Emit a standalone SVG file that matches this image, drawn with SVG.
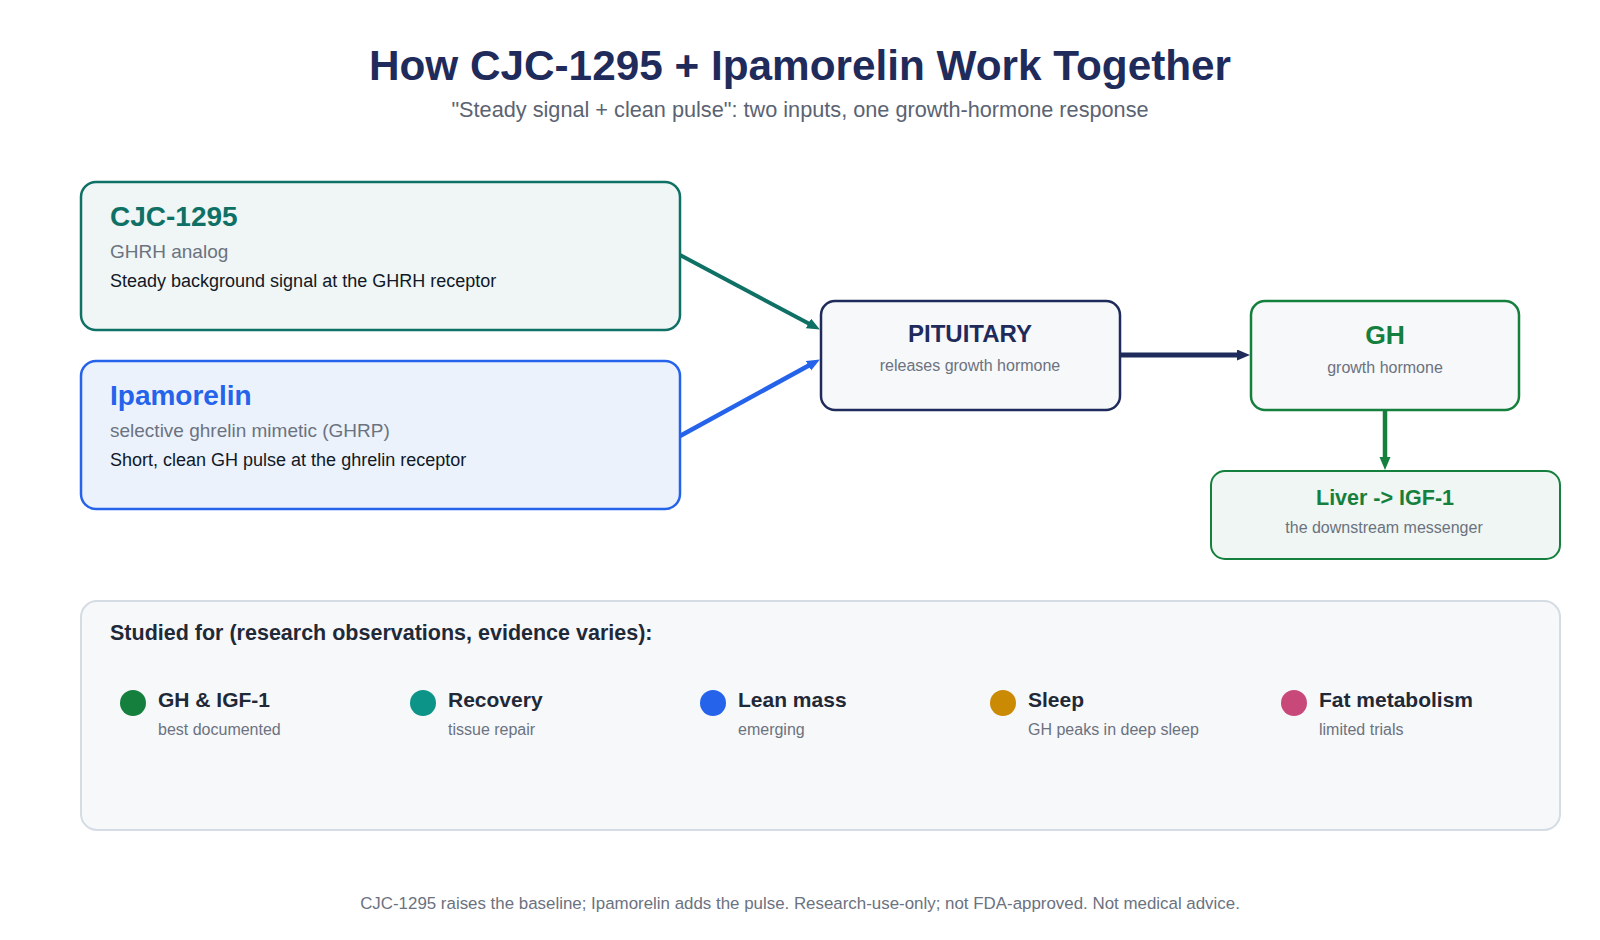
<svg xmlns="http://www.w3.org/2000/svg" width="1600" height="940" viewBox="0 0 1600 940">
<defs>
<style>
text{font-family:"Liberation Sans",Arial,sans-serif}
.title{font-size:42.3px;font-weight:bold;fill:#1f2b5b}
.subtitle{font-size:21.7px;fill:#5b6372}
.h{font-size:28px;font-weight:bold}
.g{font-size:19px;fill:#6b7280}
.d{font-size:18px;fill:#111827}
.nt{font-weight:bold;text-anchor:middle}
.ns{font-size:16px;fill:#6b7280;text-anchor:middle}
.lbl{font-size:21px;font-weight:bold;fill:#1f2937}
.sub{font-size:16px;fill:#6b7280}
.foot{font-size:16.9px;fill:#6b7280;text-anchor:middle}
.edge{fill:none;stroke-linecap:butt}
</style>
<marker id="aTeal" markerUnits="userSpaceOnUse" markerWidth="15" markerHeight="12" refX="4" refY="5.5" orient="auto"><path d="M0,0 L13,5.5 L0,11 z" fill="#0f7065"/></marker>
<marker id="aBlue" markerUnits="userSpaceOnUse" markerWidth="15" markerHeight="12" refX="4" refY="5.5" orient="auto"><path d="M0,0 L13,5.5 L0,11 z" fill="#2563eb"/></marker>
<marker id="aNavy" markerUnits="userSpaceOnUse" markerWidth="15" markerHeight="12" refX="4" refY="5.5" orient="auto"><path d="M0,0 L13,5.5 L0,11 z" fill="#1f2b5b"/></marker>
<marker id="aGreen" markerUnits="userSpaceOnUse" markerWidth="15" markerHeight="12" refX="4" refY="5.5" orient="auto"><path d="M0,0 L13,5.5 L0,11 z" fill="#15803d"/></marker>
</defs>
<rect x="0" y="0" width="1600" height="940" fill="#ffffff"/>
<g id="title">
<text class="title" x="800" y="80" text-anchor="middle">How CJC-1295 + Ipamorelin Work Together</text>
<text class="subtitle" x="800" y="117" text-anchor="middle">"Steady signal + clean pulse": two inputs, one growth-hormone response</text>
</g>
<g id="connectors">
<path class="edge" d="M680,255 L812,325.3" stroke="#0f7065" stroke-width="4" marker-end="url(#aTeal)"/>
<path class="edge" d="M680,436 L812,363.8" stroke="#2563eb" stroke-width="4.5" marker-end="url(#aBlue)"/>
<path class="edge" d="M1120,355 L1241,355" stroke="#1f2b5b" stroke-width="5" marker-end="url(#aNavy)"/>
<path class="edge" d="M1385,410 L1385,461" stroke="#15803d" stroke-width="4.5" marker-end="url(#aGreen)"/>
</g>
<g id="cjc">
<rect x="81" y="182" width="599" height="148" rx="15" fill="#eff6f5" stroke="#0f7065" stroke-width="2.5"/>
<text class="h" x="110" y="226" fill="#0f7065">CJC-1295</text>
<text class="g" x="110" y="258">GHRH analog</text>
<text class="d" x="110" y="287">Steady background signal at the GHRH receptor</text>
</g>
<g id="ipamorelin">
<rect x="81" y="361" width="599" height="148" rx="15" fill="#ebf2fc" stroke="#2563eb" stroke-width="2.5"/>
<text class="h" x="110" y="405" fill="#2563eb">Ipamorelin</text>
<text class="g" x="110" y="437">selective ghrelin mimetic (GHRP)</text>
<text class="d" x="110" y="466">Short, clean GH pulse at the ghrelin receptor</text>
</g>
<g id="pituitary">
<rect x="821" y="301" width="299" height="109" rx="14" fill="#f7f8fa" stroke="#1f2b5b" stroke-width="2.5"/>
<text class="nt" x="970" y="342" font-size="24" fill="#1f2b5b">PITUITARY</text>
<text class="ns" x="970" y="371">releases growth hormone</text>
</g>
<g id="gh">
<rect x="1251" y="301" width="268" height="109" rx="14" fill="#f7f8fa" stroke="#15803d" stroke-width="2.5"/>
<text class="nt" x="1385" y="344" font-size="26.5" fill="#15803d">GH</text>
<text class="ns" x="1385" y="373">growth hormone</text>
</g>
<g id="liver">
<rect x="1211" y="471" width="349" height="88" rx="14" fill="#eff6f3" stroke="#15803d" stroke-width="2"/>
<text class="nt" x="1385" y="505" font-size="21.5" fill="#15803d">Liver -&gt; IGF-1</text>
<text class="ns" x="1384" y="533" font-size="14.7">the downstream messenger</text>
</g>
<g id="studied">
<rect x="81" y="601" width="1479" height="229" rx="16" fill="#f7f8fa" stroke="#d6dce4" stroke-width="2"/>
<text x="110" y="640" font-size="21.5" font-weight="bold" fill="#1f2937">Studied for (research observations, evidence varies):</text>
</g>
<g id="item-gh-igf1">
<circle cx="133" cy="703" r="13" fill="#15803d"/>
<text class="lbl" x="158" y="707">GH &amp; IGF-1</text>
<text class="sub" x="158" y="735">best documented</text>
</g>
<g id="item-recovery">
<circle cx="423" cy="703" r="13" fill="#0d9488"/>
<text class="lbl" x="448" y="707">Recovery</text>
<text class="sub" x="448" y="735">tissue repair</text>
</g>
<g id="item-lean">
<circle cx="713" cy="703" r="13" fill="#2563eb"/>
<text class="lbl" x="738" y="707">Lean mass</text>
<text class="sub" x="738" y="735">emerging</text>
</g>
<g id="item-sleep">
<circle cx="1003" cy="703" r="13" fill="#ca8a04"/>
<text class="lbl" x="1028" y="707">Sleep</text>
<text class="sub" x="1028" y="735">GH peaks in deep sleep</text>
</g>
<g id="item-fat">
<circle cx="1294" cy="703" r="13" fill="#c8487a"/>
<text class="lbl" x="1319" y="707">Fat metabolism</text>
<text class="sub" x="1319" y="735">limited trials</text>
</g>
<g id="footer">
<text class="foot" x="800" y="909">CJC-1295 raises the baseline; Ipamorelin adds the pulse. Research-use-only; not FDA-approved. Not medical advice.</text>
</g>
</svg>
